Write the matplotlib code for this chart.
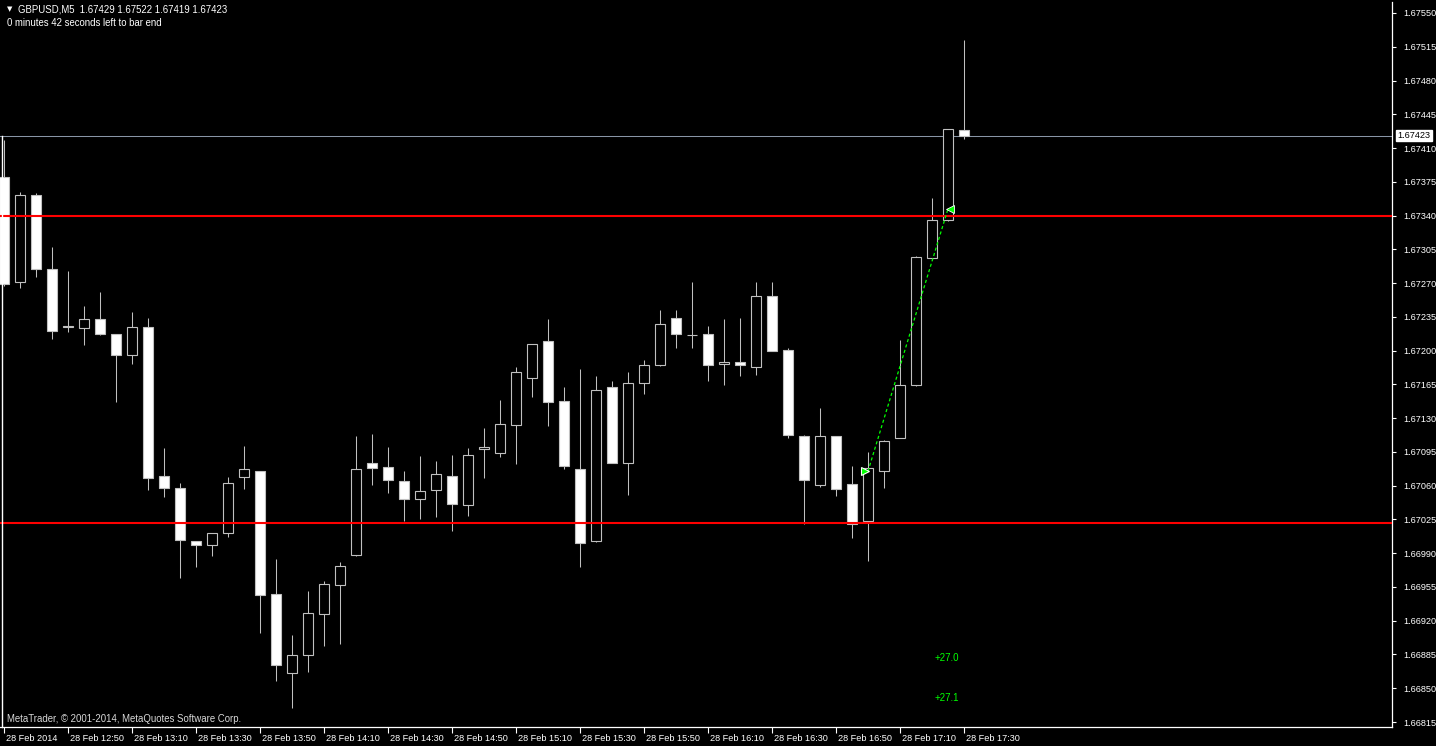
import matplotlib
matplotlib.use("Agg")
import matplotlib.pyplot as plt
import matplotlib.transforms as mtransforms
import numpy as np

# ---------------- data ----------------
opens = [1.67380, 1.67271, 1.67361, 1.67285, 1.67225, 1.67223, 1.67233, 1.67217, 1.67195, 1.67225,
         1.67070, 1.67058, 1.67003, 1.66998, 1.67011, 1.67069, 1.67075, 1.66948, 1.66866, 1.66884,
         1.66927, 1.66957, 1.66988, 1.67084, 1.67079, 1.67065, 1.67046, 1.67055, 1.67070, 1.67040,
         1.67098, 1.67094, 1.67123, 1.67172, 1.67210, 1.67148, 1.67077, 1.67003, 1.67162, 1.67083,
         1.67166, 1.67185, 1.67234, 1.67216, 1.67217, 1.67186, 1.67188, 1.67183, 1.67257, 1.67201,
         1.67111, 1.67061, 1.67111, 1.67062, 1.67023, 1.67075, 1.67109, 1.67164, 1.67296, 1.67335,
         1.67429]
highs = [1.67418, 1.67364, 1.67363, 1.67307, 1.67283, 1.67246, 1.67261, 1.67217, 1.67240, 1.67234,
         1.67099, 1.67063, 1.67003, 1.67011, 1.67069, 1.67101, 1.67075, 1.66984, 1.66905, 1.66951,
         1.66961, 1.66981, 1.67112, 1.67114, 1.67100, 1.67075, 1.67091, 1.67086, 1.67092, 1.67099,
         1.67120, 1.67149, 1.67183, 1.67207, 1.67233, 1.67162, 1.67181, 1.67174, 1.67168, 1.67178,
         1.67190, 1.67242, 1.67242, 1.67271, 1.67226, 1.67233, 1.67234, 1.67271, 1.67271, 1.67203,
         1.67113, 1.67140, 1.67111, 1.67080, 1.67095, 1.67107, 1.67211, 1.67298, 1.67358, 1.67430,
         1.67522]
lows = [1.67267, 1.67265, 1.67276, 1.67212, 1.67219, 1.67206, 1.67216, 1.67147, 1.67186, 1.67055,
        1.67048, 1.66964, 1.66976, 1.66987, 1.67007, 1.67057, 1.66907, 1.66857, 1.66830, 1.66867,
        1.66894, 1.66896, 1.66987, 1.67061, 1.67052, 1.67023, 1.67025, 1.67027, 1.67013, 1.67029,
        1.67068, 1.67090, 1.67082, 1.67152, 1.67122, 1.67077, 1.66976, 1.67002, 1.67083, 1.67050,
        1.67155, 1.67184, 1.67203, 1.67203, 1.67169, 1.67164, 1.67174, 1.67175, 1.67200, 1.67109,
        1.67020, 1.67059, 1.67049, 1.67006, 1.66982, 1.67058, 1.67109, 1.67163, 1.67294, 1.67334,
        1.67419]
closes = [1.67269, 1.67361, 1.67285, 1.67220, 1.67225, 1.67233, 1.67217, 1.67195, 1.67225, 1.67068,
          1.67058, 1.67004, 1.66998, 1.67011, 1.67063, 1.67077, 1.66947, 1.66874, 1.66884, 1.66928,
          1.66958, 1.66977, 1.67077, 1.67078, 1.67066, 1.67046, 1.67054, 1.67072, 1.67041, 1.67092,
          1.67100, 1.67124, 1.67178, 1.67207, 1.67147, 1.67080, 1.67001, 1.67159, 1.67083, 1.67166,
          1.67185, 1.67228, 1.67217, 1.67216, 1.67185, 1.67188, 1.67185, 1.67257, 1.67200, 1.67113,
          1.67066, 1.67112, 1.67057, 1.67020, 1.67078, 1.67106, 1.67164, 1.67297, 1.67335, 1.67430,
          1.67423]

time_labels = ["28 Feb 2014", "28 Feb 12:50", "28 Feb 13:10", "28 Feb 13:30", "28 Feb 13:50",
               "28 Feb 14:10", "28 Feb 14:30", "28 Feb 14:50", "28 Feb 15:10", "28 Feb 15:30",
               "28 Feb 15:50", "28 Feb 16:10", "28 Feb 16:30", "28 Feb 16:50", "28 Feb 17:10",
               "28 Feb 17:30"]
label_every = 4

price_ticks = [1.67550, 1.67515, 1.67480, 1.67445, 1.67410, 1.67375, 1.67340, 1.67305, 1.67270,
               1.67235, 1.67200, 1.67165, 1.67130, 1.67095, 1.67060, 1.67025, 1.66990, 1.66955,
               1.66920, 1.66885, 1.66850, 1.66815]

hlines_red = [1.67340, 1.67021]
bid_price = 1.67423

trade_bars = [54, 59]
trade_prices = [1.67075, 1.67347]
trade_texts = ["+27.0", "+27.1"]
trade_text_prices = [1.66881, 1.66840]

header1 = "GBPUSD,M5  1.67429 1.67522 1.67419 1.67423"
header2 = "0 minutes 42 seconds left to bar end"
copyright_text = "MetaTrader, \u00a9 2001-2014, MetaQuotes Software Corp."

# ---------------- figure ----------------
W, H = 1436, 746
fig = plt.figure(figsize=(W / 100, H / 100), dpi=100, facecolor="black")
ax_left, ax_right, ax_top, ax_bottom = 0, 1392, 2, 727
ax = fig.add_axes([ax_left / W, (H - ax_bottom) / H, (ax_right - ax_left) / W, (ax_bottom - ax_top) / H])
ax.set_facecolor("black")

FONT = ["Liberation Sans", "DejaVu Sans"]
fs = 6.6

n = len(opens)
x = np.arange(n)
o = np.array(opens); h = np.array(highs); l = np.array(lows); c = np.array(closes)

edge = "#c0c0c0"
# wicks
ax.vlines(x, l, h, color=edge, linewidth=0.75, zorder=2)
# bodies
bull = c > o
bear = c < o
doji = c == o
bw = 0.62
ax.bar(x[bull], (c - o)[bull], bottom=o[bull], width=bw, color="black", edgecolor=edge, linewidth=0.8, zorder=3)
ax.bar(x[bear], (o - c)[bear], bottom=c[bear], width=bw, color="white", edgecolor=edge, linewidth=0.8, zorder=3)
ax.bar(x[doji], 0.000004, bottom=o[doji] - 0.000002, width=bw, color=edge, edgecolor=edge, linewidth=0.8, zorder=3)

# horizontal levels
for lv in hlines_red:
    ax.axhline(lv, color="#ff0000", linewidth=1.5, zorder=4)
ax.axhline(bid_price, color="#8895a5", linewidth=0.75, zorder=1)

# limits (pixel-matched)
px_per_bar = 16
first_px = 4
ax.set_xlim(-(first_px - ax_left) / px_per_bar, (ax_right - first_px) / px_per_bar)
ppu = (722 - 13) / (price_ticks[0] - price_ticks[-1])
ax.set_ylim(price_ticks[-1] - (ax_bottom - 722) / ppu, price_ticks[0] + (13 - ax_top) / ppu)

# left edge line
ax.plot([-0.14, -0.14], [ax.get_ylim()[0], bid_price], color="white", linewidth=1.0, zorder=5, clip_on=False)

# trade line and arrows
ax.plot(trade_bars, trade_prices, color="#00ff00", linewidth=0.9, linestyle=(0, (2.5, 2)), zorder=6)
ax.plot(trade_bars[0] - 0.2, trade_prices[0], marker=">", markersize=6, color="#00ff00",
        markeredgecolor="white", markeredgewidth=0.8, zorder=7)
ax.plot(trade_bars[1] + 0.1, trade_prices[1], marker="<", markersize=6, color="#00ff00",
        markeredgecolor="white", markeredgewidth=0.6, zorder=7)
for t, p in zip(trade_texts, trade_text_prices):
    ax.text(trade_bars[1] - 0.05, p, t, color="#00ff00", fontsize=fs + 0.4, family=FONT,
            ha="center", va="center", zorder=7)

# spines
for s in ["left"]:
    ax.spines[s].set_visible(False)
for s in ["right", "bottom", "top"]:
    ax.spines[s].set_color("white")
    ax.spines[s].set_linewidth(0.9)
ax.spines["top"].set_visible(False)

# y ticks on right
ax.yaxis.tick_right()
ax.set_yticks(price_ticks)
ax.set_yticklabels([f"{v:.5f}" for v in price_ticks], family=FONT)
ax.tick_params(axis="y", which="both", colors="white", labelcolor="white", labelsize=fs,
               length=3, width=0.8, direction="out", pad=5)

# x ticks
tick_pos = x[::label_every][:len(time_labels)]
ax.set_xticks(tick_pos)
ax.set_xticklabels(time_labels, family=FONT, ha="left")
ax.tick_params(axis="x", colors="white", labelcolor="white", labelsize=fs, length=4, width=0.8,
               direction="out", pad=1)
offset = mtransforms.ScaledTranslation(1.5 / 72, 0, fig.dpi_scale_trans)
for lab in ax.get_xticklabels():
    lab.set_transform(lab.get_transform() + offset)

# bid price label box
ax.annotate(f"{bid_price:.5f}", xy=(1.0, bid_price), xycoords=("axes fraction", "data"),
            xytext=(4, 0), textcoords="offset points", ha="left", va="center",
            fontsize=fs, family=FONT, color="black",
            bbox=dict(boxstyle="square,pad=0.15", facecolor="white", edgecolor="white"),
            annotation_clip=False, zorder=10)

# header texts
fig.text(7 / W, 1 - 9.5 / H, "\u25bc", color="white", fontsize=5, family=["DejaVu Sans"], ha="left", va="center")
fig.text(18 / W, 1 - 9.5 / H, header1, color="white", fontsize=fs + 0.3, family=FONT, ha="left", va="center")
fig.text(7 / W, 1 - 23 / H, header2, color="white", fontsize=fs + 0.3, family=FONT, ha="left", va="center")
fig.text(7 / W, 1 - 719 / H, copyright_text, color="#d8d8d8", fontsize=fs + 0.3, family=FONT, ha="left", va="center")

fig.savefig("out.png", dpi=100, facecolor="black")
